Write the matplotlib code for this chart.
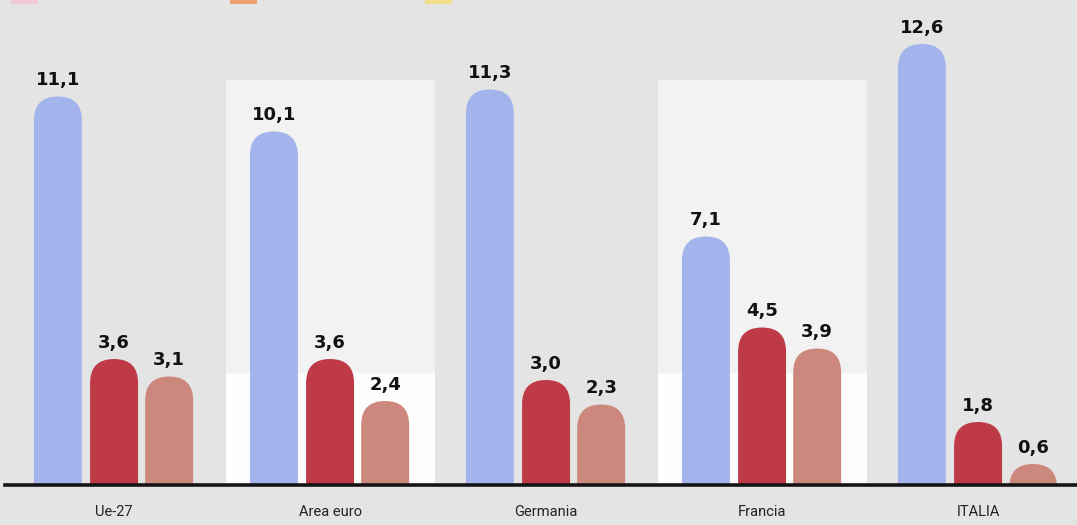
import matplotlib.pyplot as plt
from matplotlib.patches import FancyBboxPatch, Rectangle

# data
countries = ["Ue-27", "Area euro", "Germania", "Francia", "ITALIA"]
serie_1 = [11.1, 10.1, 11.3, 7.1, 12.6]
serie_2 = [3.6, 3.6, 3.0, 4.5, 1.8]
serie_3 = [3.1, 2.4, 2.3, 3.9, 0.6]

colors = ["#a3b4ec", "#bf3a47", "#cd887d"]
offsets = [-0.26, 0.0, 0.255]
BAR_W = 0.222

W, H = 1077, 525
fig = plt.figure(figsize=(W / 100, H / 100), dpi=100)
fig.patch.set_facecolor("#e4e4e4")

ax_left, ax_bottom = 5, 40
ax_w, ax_h = W - ax_left, 485
ax = fig.add_axes([ax_left / W, ax_bottom / H, ax_w / W, ax_h / H])
ax.set_facecolor("none")
xlim = (-0.505, 4.458)
ylim = (0, 13.857)
ax.set_xlim(*xlim)
ax.set_ylim(*ylim)
ax.axis("off")

px_x = ax_w / (xlim[1] - xlim[0])
px_y = ax_h / (ylim[1] - ylim[0])
aspect = px_x / px_y

# lighter panels behind Area euro and Francia (artefacts in the original)
for i in (1, 3):
    ax.add_patch(Rectangle((i - 0.48, 3.2), 0.965, 11.57 - 3.2,
                           facecolor="#f2f2f2", edgecolor="none", zorder=0))
    ax.add_patch(Rectangle((i - 0.48, 0), 0.965, 3.2,
                           facecolor="#fdfdfd", edgecolor="none", zorder=0))

series = [serie_1, serie_2, serie_3]
for s, vals in enumerate(series):
    for i, v in enumerate(vals):
        x0 = i + offsets[s] - BAR_W / 2
        bar = FancyBboxPatch((x0, -2), BAR_W, v + 2,
                             boxstyle="round,pad=0,rounding_size=%f" % (BAR_W / 2),
                             mutation_aspect=aspect,
                             facecolor=colors[s], edgecolor="none", zorder=2)
        ax.add_patch(bar)
        ax.text(i + offsets[s], v + 0.2, ("%.1f" % v).replace(".", ","),
                ha="center", va="bottom", fontsize=13, fontweight="bold",
                family="DejaVu Sans", color="#111111", zorder=3)

ax.axhline(0, color="#151515", lw=2.6, zorder=4, clip_on=False)

for i, name in enumerate(countries):
    ax.text(i, -0.77, name, ha="center", va="center", fontsize=10.5,
            family="Roboto", color="#222222", clip_on=False)

# top of the legend swatches, cut off in the original
for x0, c in zip([11, 230, 425], ["#f3c9d6", "#f0a070", "#f2de8a"]):
    fig.patches.append(Rectangle((x0 / W, (H - 4) / H), 27 / W, 6 / H,
                                 transform=fig.transFigure,
                                 facecolor=c, edgecolor="none"))

fig.savefig("out.png", dpi=100, facecolor=fig.get_facecolor())
